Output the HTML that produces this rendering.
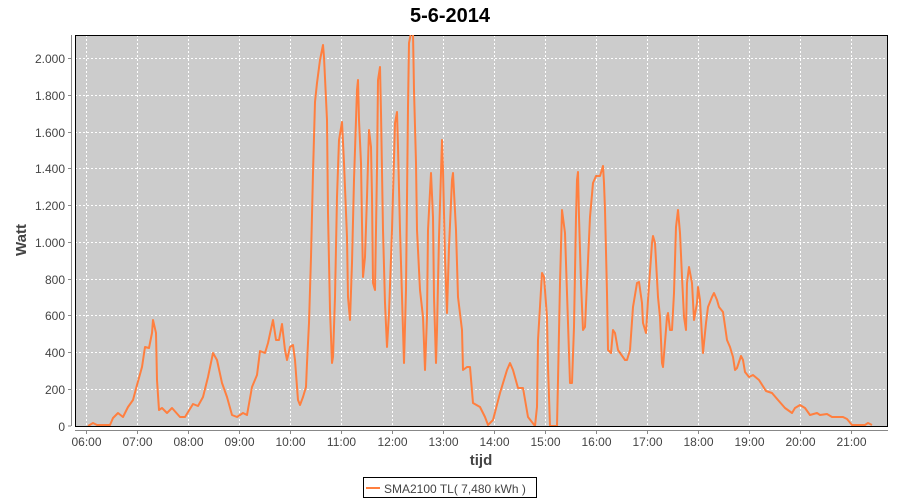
<!DOCTYPE html>
<html><head><meta charset="utf-8"><style>
html,body{margin:0;padding:0;background:#fff;}
svg{display:block;font-family:"Liberation Sans","DejaVu Sans",sans-serif;}
</style></head><body>
<svg width="900" height="500" viewBox="0 0 900 500" xmlns="http://www.w3.org/2000/svg">
<rect width="900" height="500" fill="#fff"/>
<text x="450" y="22" text-anchor="middle" font-size="20" font-weight="bold" fill="#000">5-6-2014</text>
<rect x="75" y="35" width="813" height="391" fill="#cccccc"/>
<g stroke="#fff" stroke-width="1" stroke-dasharray="2,2">
<line x1="75" x2="888" y1="58.5" y2="58.5"/>
<line x1="75" x2="888" y1="95.5" y2="95.5"/>
<line x1="75" x2="888" y1="132.5" y2="132.5"/>
<line x1="75" x2="888" y1="168.5" y2="168.5"/>
<line x1="75" x2="888" y1="205.5" y2="205.5"/>
<line x1="75" x2="888" y1="242.5" y2="242.5"/>
<line x1="75" x2="888" y1="279.5" y2="279.5"/>
<line x1="75" x2="888" y1="315.5" y2="315.5"/>
<line x1="75" x2="888" y1="352.5" y2="352.5"/>
<line x1="75" x2="888" y1="389.5" y2="389.5"/>
<line y1="35" y2="426" x1="86.5" x2="86.5"/>
<line y1="35" y2="426" x1="137.5" x2="137.5"/>
<line y1="35" y2="426" x1="188.5" x2="188.5"/>
<line y1="35" y2="426" x1="239.5" x2="239.5"/>
<line y1="35" y2="426" x1="290.5" x2="290.5"/>
<line y1="35" y2="426" x1="341.5" x2="341.5"/>
<line y1="35" y2="426" x1="392.5" x2="392.5"/>
<line y1="35" y2="426" x1="443.5" x2="443.5"/>
<line y1="35" y2="426" x1="494.5" x2="494.5"/>
<line y1="35" y2="426" x1="545.5" x2="545.5"/>
<line y1="35" y2="426" x1="596.5" x2="596.5"/>
<line y1="35" y2="426" x1="647.5" x2="647.5"/>
<line y1="35" y2="426" x1="698.5" x2="698.5"/>
<line y1="35" y2="426" x1="749.5" x2="749.5"/>
<line y1="35" y2="426" x1="800.5" x2="800.5"/>
<line y1="35" y2="426" x1="851.5" x2="851.5"/>
</g>
<rect x="75.5" y="35.5" width="812" height="391" fill="none" stroke="#000" stroke-width="1"/>
<svg x="75" y="35" width="813" height="391" viewBox="75 35 813 391" overflow="hidden">
<polyline fill="none" stroke="#ff7f3f" stroke-width="2" stroke-linejoin="round" points="
88,426 93,423 97,425 110,425 113,418 118,413 123,417 128,407 133,400 137,385 142,367 145,347 149,348 152,333 153,320 156,333 157,380 159,410 162,408 167,413 172,408 180,417 185,417 193,404 198,406 203,397 208,377 213,353 217,360 222,383 227,397 232,415 237,417 243,413 247,415 252,387 257,375 260,351 265,353 268,343 273,320 276,340 279,340 282,324 285,350 287,360 290,347 293,345 295,360 297,387 298,400 300,405 303,397 306,387 307,363 309,323 311,257 313,173 315,102 317,83 320,60 323,45 324,57 327,120 328,213 330,310 332,363 333,357 335,297 337,197 339,140 342,122 344,163 347,237 348,297 350,320 352,263 354,180 357,90 358,80 359,120 361,163 362,223 363,277 365,257 367,197 369,130 371,147 372,197 373,283 375,290 377,170 378,80 380,67 381,113 383,230 385,303 387,347 389,313 392,230 395,123 397,112 398,147 400,230 403,330 404,363 406,290 408,107 409,43 411,33 413,33 414,90 416,163 417,230 420,290 423,317 425,370 427,317 428,230 431,173 433,217 434,297 436,363 437,330 439,237 442,140 443,170 445,257 447,313 449,247 452,180 453,173 456,230 458,297 462,330 463,370 467,367 470,367 473,403 480,407 485,417 488,425 493,420 500,393 507,370 510,363 513,370 518,388 523,388 528,417 535,426 537,407 538,340 542,273 544,277 547,317 548,367 550,426 557,426 558,380 560,283 562,210 565,233 567,293 570,383 572,383 574,327 576,217 577,180 578,172 579,217 581,283 583,330 585,327 587,283 590,217 593,183 596,176 600,176 603,166 604,183 605,210 607,293 608,350 611,353 613,330 615,333 618,350 625,360 627,360 630,350 633,307 637,283 639,282 642,303 643,323 646,333 648,300 652,243 653,236 655,243 658,297 660,317 662,363 663,367 667,317 668,313 670,330 672,330 674,293 676,227 678,210 680,233 682,277 684,317 686,330 687,283 689,267 692,283 694,320 697,303 698,287 700,300 702,337 703,353 706,323 708,307 712,297 714,293 717,300 719,307 723,312 727,340 730,347 733,357 735,370 737,368 741,356 743,360 745,372 749,377 753,375 759,380 766,391 772,393 778,400 785,408 792,413 795,408 800,405 805,408 810,415 817,413 820,415 827,414 832,417 837,417 843,417 847,419 852,425 865,425 868,423 872,425"/>
</svg>
<g stroke="#888" stroke-width="1" fill="none">
<line x1="71.5" x2="71.5" y1="35" y2="426"/>
<line x1="75" x2="888" y1="430.5" y2="430.5"/>
</g>
<g stroke="#888" stroke-width="1">
<line x1="68" x2="71" y1="58.5" y2="58.5"/><line x1="68" x2="71" y1="95.5" y2="95.5"/><line x1="68" x2="71" y1="132.5" y2="132.5"/><line x1="68" x2="71" y1="168.5" y2="168.5"/><line x1="68" x2="71" y1="205.5" y2="205.5"/><line x1="68" x2="71" y1="242.5" y2="242.5"/><line x1="68" x2="71" y1="279.5" y2="279.5"/><line x1="68" x2="71" y1="315.5" y2="315.5"/><line x1="68" x2="71" y1="352.5" y2="352.5"/><line x1="68" x2="71" y1="389.5" y2="389.5"/><line x1="68" x2="71" y1="426" y2="426"/>
<line y1="431" y2="434" x1="86.5" x2="86.5"/><line y1="431" y2="434" x1="137.5" x2="137.5"/><line y1="431" y2="434" x1="188.5" x2="188.5"/><line y1="431" y2="434" x1="239.5" x2="239.5"/><line y1="431" y2="434" x1="290.5" x2="290.5"/><line y1="431" y2="434" x1="341.5" x2="341.5"/><line y1="431" y2="434" x1="392.5" x2="392.5"/><line y1="431" y2="434" x1="443.5" x2="443.5"/><line y1="431" y2="434" x1="494.5" x2="494.5"/><line y1="431" y2="434" x1="545.5" x2="545.5"/><line y1="431" y2="434" x1="596.5" x2="596.5"/><line y1="431" y2="434" x1="647.5" x2="647.5"/><line y1="431" y2="434" x1="698.5" x2="698.5"/><line y1="431" y2="434" x1="749.5" x2="749.5"/><line y1="431" y2="434" x1="800.5" x2="800.5"/><line y1="431" y2="434" x1="851.5" x2="851.5"/>
</g>
<g font-size="12" fill="#444" text-anchor="end">
<text x="65" y="63">2.000</text><text x="65" y="100">1.800</text><text x="65" y="137">1.600</text><text x="65" y="173">1.400</text><text x="65" y="210">1.200</text><text x="65" y="247">1.000</text><text x="65" y="284">800</text><text x="65" y="320">600</text><text x="65" y="357">400</text><text x="65" y="394">200</text><text x="65" y="431">0</text>
</g>
<g font-size="12" fill="#444" text-anchor="middle">
<text x="86.5" y="446">06:00</text><text x="137.5" y="446">07:00</text><text x="188.5" y="446">08:00</text><text x="239.5" y="446">09:00</text><text x="290.5" y="446">10:00</text><text x="341.5" y="446">11:00</text><text x="392.5" y="446">12:00</text><text x="443.5" y="446">13:00</text><text x="494.5" y="446">14:00</text><text x="545.5" y="446">15:00</text><text x="596.5" y="446">16:00</text><text x="647.5" y="446">17:00</text><text x="698.5" y="446">18:00</text><text x="749.5" y="446">19:00</text><text x="800.5" y="446">20:00</text><text x="851.5" y="446">21:00</text>
</g>
<text x="481" y="465" text-anchor="middle" font-size="15" font-weight="bold" fill="#444">tijd</text>
<text transform="translate(26,240) rotate(-90)" text-anchor="middle" font-size="15" font-weight="bold" fill="#444">Watt</text>
<rect x="363.5" y="477.5" width="173" height="20" fill="#fff" stroke="#000" stroke-width="1"/>
<line x1="366" x2="380" y1="488" y2="488" stroke="#ff7f3f" stroke-width="2"/>
<text x="384" y="493" font-size="12" fill="#444">SMA2100 TL( 7,480 kWh )</text>
</svg>
</body></html>
